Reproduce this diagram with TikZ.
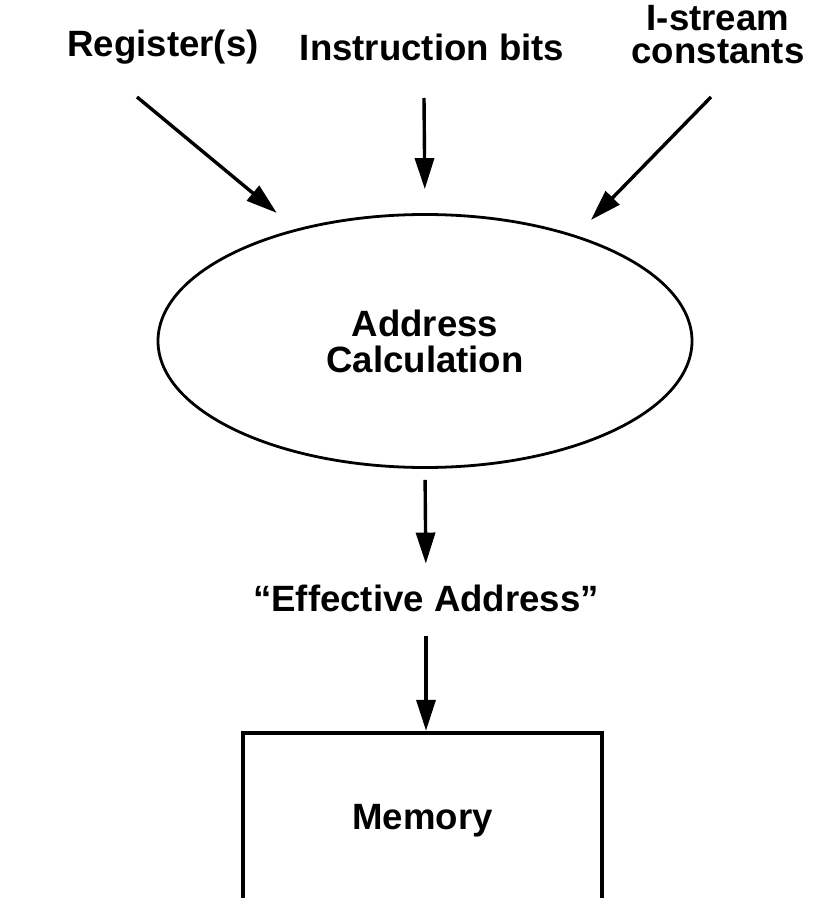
\documentclass[tikz,border=0pt]{standalone}
\usepackage{fontspec}
\setmainfont{Liberation Sans}
\usetikzlibrary{positioning}
\usetikzlibrary{shapes.geometric}
\usetikzlibrary{arrows.meta}

\begin{document}
\begin{tikzpicture}
    [x=0.5pt, y=-0.5pt, every node/.style={font=\fontsize{18.3}{18}\selectfont\bfseries, inner sep=0pt},
    arrow/.style={line width=1.7pt, -{Triangle[length=15.5pt, width=9.5pt]}}
    ]

    \useasboundingbox (0,0) rectangle (822,898);

    % Draw the inputs
    \node (reg) at (163,47) {Register(s)};
    \node (inst) at (432,47) {Instruction bits};
    \node[align=center, font=\fontsize{18.3}{16.5}\selectfont\bfseries] (istr) at (718,35) {I-stream\\constants};

    \coordinate (regtail) at (137,97);
    \coordinate (insttail) at (424,98);
    \coordinate (istrtail) at (711,97);

    % Draw the calculation
    \node[ellipse, draw, line width=1.4pt, minimum width=267pt, minimum height=126.5pt, align=center]
        (calc) at (425,341) {Address\\Calculation};
    \node (eff) at (426,598) {“Effective Address”};
    \node[draw, line width=2.2pt, minimum width=179.5pt, minimum height=88pt] (mem) at (422.5,821) {Memory};

    % Draw the arrows
    \draw[arrow, shorten >=12.5pt] (regtail) -- (calc.139.5);
    \draw[arrow, shorten >=12pt] (insttail) -- (calc.north);
    \draw[arrow, shorten >=10.7pt] (istrtail) -- (calc.35.8);
    \draw[arrow, shorten <=5.5pt, shorten >=10.3pt] (calc.south) -- (eff.north);
    \draw[arrow, shorten <=12.3pt] (eff.south) -- (mem.north -| eff.south);

\end{tikzpicture}
\end{document}
